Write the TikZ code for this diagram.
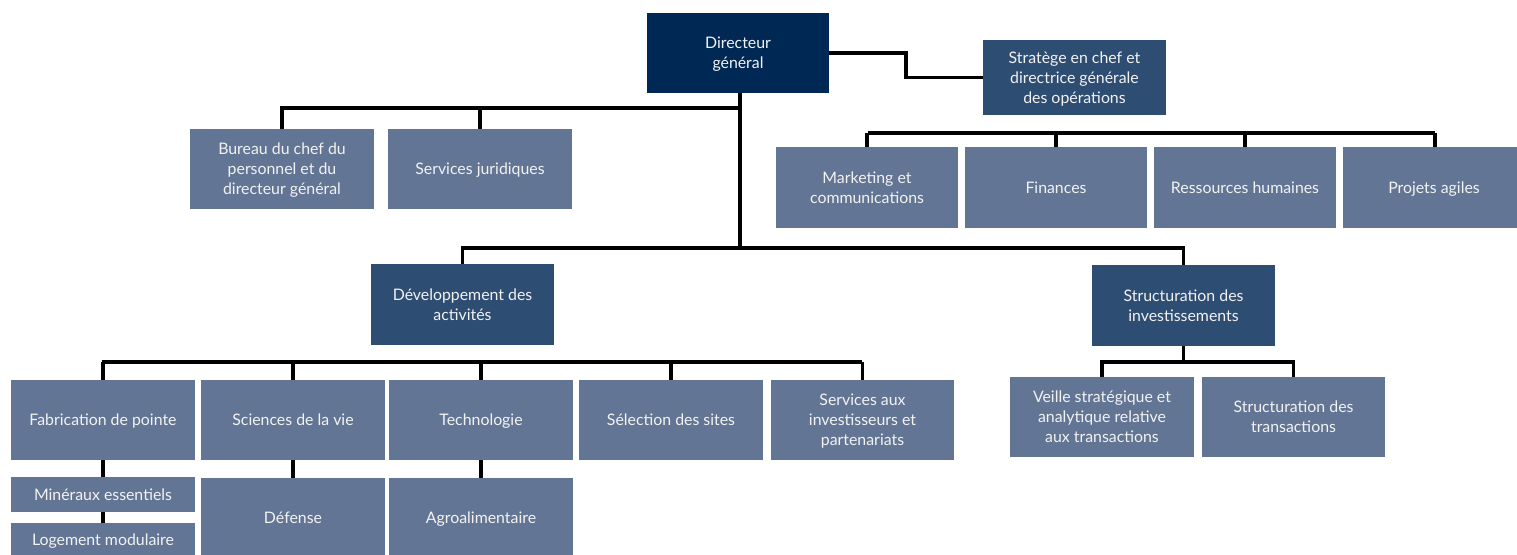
\documentclass[tikz,border=0pt]{standalone}
\usepackage{fontspec}
\setmainfont{Lato}
\definecolor{cdg}{RGB}{0,40,85}
\definecolor{cmid}{RGB}{46,77,115}
\definecolor{clight}{RGB}{99,117,148}
\definecolor{ctext}{RGB}{242,242,242}
\begin{document}
\begin{tikzpicture}[x=0.75pt,y=-0.75pt,
  box/.style={rectangle, inner sep=0pt, minimum width=137.5pt, minimum height=60pt,
    align=center, text=ctext, text depth=-2.8pt, font=\fontsize{11.9}{15}\selectfont},
  top/.style={box, fill=cdg},
  mid/.style={box, fill=cmid},
  low/.style={box, fill=clight},
  conn/.style={draw=black, line width=2.6pt}]
\useasboundingbox (0,0) rectangle (1517,554);
\clip (0,0) rectangle (1517,554);
\fill[white] (0,0) rectangle (1517,554);
% nodes
\node[top, minimum width=136.5pt] (dg) at (738,53) {Directeur\\général};
\node[mid, minimum height=56.25pt] (strat) at (1074.5,77.5) {Stratège en chef et\\directrice générale\\des opérations};
\node[low] (bureau) at (282,169) {Bureau du chef du\\personnel et du\\directeur général};
\node[low] (jur) at (480,169) {Services juridiques};
\node[low, minimum height=60.75pt, minimum width=136.5pt] (mkt) at (867,187.5) {Marketing et\\communications};
\node[low, minimum height=60.75pt, minimum width=136.5pt] (fin) at (1056,187.5) {Finances};
\node[low, minimum height=60.75pt, minimum width=136.5pt] (rh) at (1245,187.5) {Ressources humaines};
\node[low, minimum height=60.75pt, minimum width=136.5pt] (agile) at (1434,187.5) {Projets agiles};
\node[mid, minimum height=60.75pt] (dev) at (462.5,304.5) {Développement des\\activités};
\node[mid, minimum height=60.75pt] (sinv) at (1183.5,305.5) {Structuration des\\investissements};
\node[low] (fab) at (103,420) {Fabrication de pointe};
\node[low] (sci) at (293,420) {Sciences de la vie};
\node[low] (tech) at (481,420) {Technologie};
\node[low] (sel) at (671,420) {Sélection des sites};
\node[low] (sip) at (862.5,420) {Services aux\\investisseurs et\\partenariats};
\node[low] (veille) at (1102,417) {Veille stratégique et\\analytique relative\\aux transactions};
\node[low] (strans) at (1293.5,417) {Structuration des\\transactions};
\node[low, minimum height=26.25pt] (min) at (103,494.5) {Minéraux essentiels};
\node[low, minimum height=25.5pt] (loge) at (103,540) {Logement modulaire};
\node[low] (def) at (293,518) {Défense};
\node[low] (agro) at (481,518) {Agroalimentaire};
% junction coordinates
\coordinate (b1) at (740,108);
\coordinate (b2) at (740,248);
\coordinate (c1) at (906,0);
\coordinate (o1) at (868,133);
\coordinate (o2) at (1435,133);
\coordinate (d1) at (102,362);
\coordinate (d2) at (862,362);
\coordinate (s1) at (1102,362);
% connectors
\draw[conn] (dg.south -| b1) -- (b2);
\draw[conn] (bureau.north) |- (b1);
\draw[conn] (jur.north) -- (jur.north |- b1);
\draw[conn] (dev.north) |- (b2) -| (sinv.north);
\draw[conn] (dg.east) -- (dg.east -| c1) -- (c1 |- strat.west) -- (strat.west);
\draw[conn] (o1) -- (o2);
\draw[conn] (mkt.north) -- (mkt.north |- o1);
\draw[conn] (fin.north) -- (fin.north |- o1);
\draw[conn] (rh.north) -- (rh.north |- o1);
\draw[conn] (agile.north -| o2) -- (o2);
\draw[conn] (d1) -- (d2);
\draw[conn] (fab.north) -- (fab.north |- d1);
\draw[conn] (sci.north) -- (sci.north |- d1);
\draw[conn] (tech.north) -- (tech.north |- d1);
\draw[conn] (sel.north) -- (sel.north |- d1);
\draw[conn] (sip.north) -- (sip.north |- d1);
\draw[conn] (sinv.south) -- (sinv.south |- s1);
\draw[conn] (veille.north) |- (sinv.south |- s1) -| (strans.north);
\draw[conn] (fab.south) -- (min.north);
\draw[conn] (min.south) -- (loge.north);
\draw[conn] (sci.south) -- (def.north);
\draw[conn] (tech.south) -- (agro.north);
\end{tikzpicture}
\end{document}
